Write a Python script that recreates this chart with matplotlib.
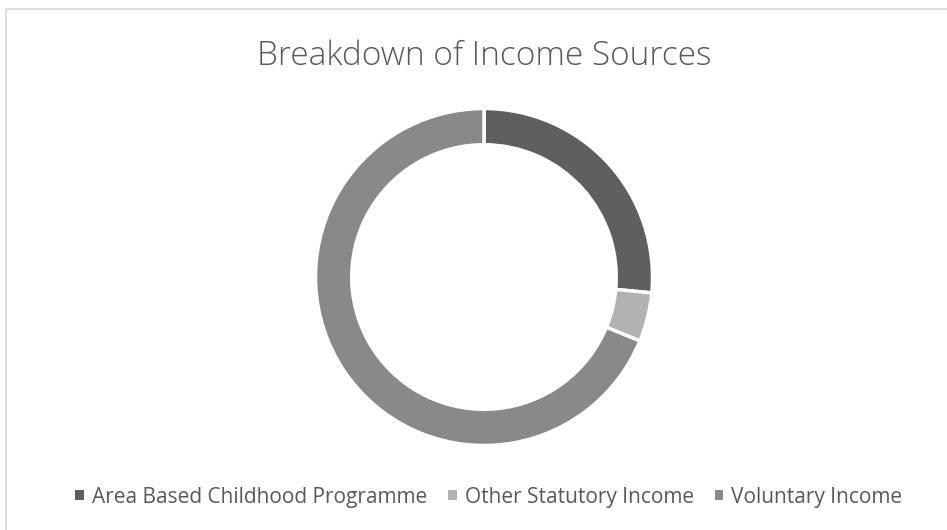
import matplotlib
matplotlib.use("Agg")
import matplotlib.pyplot as plt
from matplotlib.patches import Rectangle, Patch

categories = ["Area Based Childhood Programme", "Other Statutory Income", "Voluntary Income"]
values = [26.5, 4.7, 68.8]
colors = ["#5f5f5f", "#b2b2b2", "#898989"]
title = "Breakdown of Income Sources"

W, H = 947, 530
fig = plt.figure(figsize=(W/100, H/100), dpi=100)
plt.rcParams['font.family'] = ['Open Sans', 'DejaVu Sans']

# outer border
fig.patches.append(Rectangle((6/W, -0.1), 1.2, (H-9)/H + 0.1, transform=fig.transFigure,
                             fill=False, edgecolor="#d9d9d9", linewidth=1.2))

cx, cy, R = 484, 277, 168.5
ax = fig.add_axes([(cx-R)/W, (H-cy-R)/H, 2*R/W, 2*R/H])
ax.pie(values, colors=colors, startangle=90, counterclock=False, radius=1,
       wedgeprops=dict(width=0.215, edgecolor="white", linewidth=2.5))
ax.set_xlim(-1, 1); ax.set_ylim(-1, 1)
ax.set_aspect('equal'); ax.axis('off')

fig.text(cx/W, 1-56/H, title, ha='center', va='center', fontsize=24, color="#595959",
         fontweight='light')

handles = [Patch(facecolor=c, edgecolor='none') for c in colors]
fig.legend(handles, categories, loc='center', bbox_to_anchor=(489/W, 1-497/H), ncol=3,
           frameon=False, fontsize=15, labelcolor="#595959", handlelength=0.4,
           handleheight=0.4, handletextpad=0.4, columnspacing=1.0)

fig.savefig("out.png", dpi=100)
